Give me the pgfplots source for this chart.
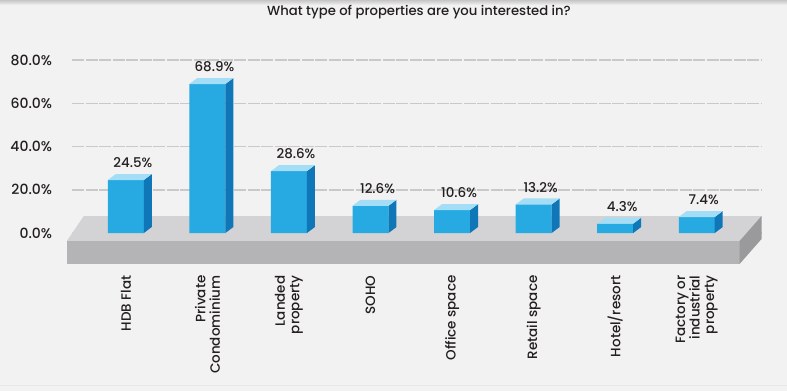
\documentclass[border=0pt]{standalone}
\usepackage{pgfplots}
\pgfplotsset{compat=1.18}
\usepackage{fontspec}
\setmainfont{Poppins}[UprightFont={* Medium}]
\definecolor{bg}{HTML}{F2F2F2}
\definecolor{barfront}{HTML}{27A9E1}
\definecolor{barside}{HTML}{0F76B8}
\definecolor{bartop}{HTML}{A4DEF6}
\definecolor{plattop}{HTML}{D3D3D5}
\definecolor{platfront}{HTML}{B4B4B7}
\definecolor{platside}{HTML}{9A9A9D}
\definecolor{gridc}{HTML}{C9C9C9}
\definecolor{txt}{HTML}{231F20}
\begin{document}
\begin{tikzpicture}
\fill[bg] (-72pt,-127pt) rectangle (715pt,264pt);
\shade[top color=gray!45, bottom color=bg] (-72pt,259pt) rectangle (715pt,264pt);
\fill[gray!18] (-72pt,-122pt) rectangle (715pt,-120.5pt);
\node[font=\fontsize{13.2}{15}\selectfont, text=txt] at (347pt,252pt) {What type of properties are you interested in?};
\begin{axis}[
  scale only axis,
  width=690pt, height=204pt,
  xmin=-0.66, xmax=7.8, ymin=-14.33, ymax=80,
  clip=false,
  axis line style={draw=none},
  major tick length=0pt,
  ytick={0,20,40,60,80},
  ymajorgrids,
  major grid style={gridc, line width=1.5pt, dash pattern=on 12pt off 1.5pt},
  /pgf/number format/assume math mode=true,
  yticklabel={\pgfmathprintnumber[fixed,fixed zerofill,precision=1]{\tick}\%},
  yticklabel style={font=\fontsize{14}{15}\selectfont, text=txt, xshift=-16.5pt},
  xtick={0,1,2,3,4,5,6,7},
  xticklabels={HDB Flat,{Private\\Condominium},{Landed\\property},SOHO,Office space,Retail space,Hotel/resort,{Factory or\\industrial\\property}},
  xticklabel style={rotate=90, anchor=east, align=right, font=\fontsize{13.5}{14.5}\selectfont, text=txt, xshift=-8pt},
]
% platform
\addplot[fill=plattop, draw=none, forget plot] coordinates {(-0.515,7.86) (7.794,7.86) (7.525,-3.70) (-0.723,-3.70)} -- cycle;
\addplot[fill=platfront, draw=none, forget plot] coordinates {(-0.723,-3.70) (7.525,-3.70) (7.525,-14.33) (-0.723,-14.33)} -- cycle;
\addplot[fill=platside, draw=none, forget plot] coordinates {(7.525,-3.70) (7.794,7.86) (7.794,-2.77) (7.525,-14.33)} -- cycle;
% bars
\addplot[ybar, bar width=36pt, fill=barfront, draw=none,
  nodes near coords={\pgfmathprintnumber[fixed,fixed zerofill,precision=1]{\pgfplotspointmeta}\%},
  nodes near coords style={font=\fontsize{13.4}{15}\selectfont, text=txt, anchor=south, inner sep=0pt, yshift=12pt, xshift=7pt}]
  coordinates {(0,24.5) (1,68.9) (2,28.6) (3,12.6) (4,10.6) (5,13.2) (6,4.3) (7,7.4)};
\foreach \i/\h in {0/24.5,1/68.9,2/28.6,3/12.6,4/10.6,5/13.2,6/4.3,7/7.4}{
  \pgfmathsetmacro\xl{\i-0.2206}
  \pgfmathsetmacro\xr{\i+0.2206}
  \pgfmathsetmacro\xrr{\i+0.3186}
  \pgfmathsetmacro\xlb{\i-0.1226}
  \pgfmathsetmacro\ht{\h+2.775}
  \edef\temp{\noexpand\addplot[fill=barside,draw=none,forget plot] coordinates {(\xr,0) (\xrr,2.775) (\xrr,\ht) (\xr,\h)} -- cycle;
    \noexpand\addplot[fill=bartop,draw=none,forget plot] coordinates {(\xl,\h) (\xr,\h) (\xrr,\ht) (\xlb,\ht)} -- cycle;}
  \temp
}
\end{axis}
\end{tikzpicture}
\end{document}
